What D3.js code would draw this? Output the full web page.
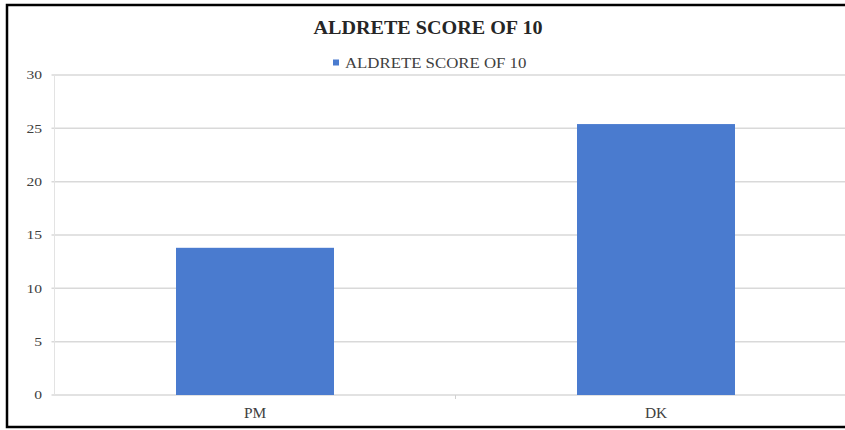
<!DOCTYPE html>
<html>
<head>
<meta charset="utf-8">
<script src="https://cdn.jsdelivr.net/npm/d3@7"></script>
<style>
  body { margin: 0; background: #fff; }
  svg { display: block; font-family: "Liberation Serif", "DejaVu Serif", serif; }
</style>
</head>
<body>
<div id="chart"></div>
<script>
// chart data
var categories = ["PM", "DK"];
var seriesName = "ALDRETE SCORE OF 10";
var values = [13.8, 25.4];
var yTicks = [0, 5, 10, 15, 20, 25, 30];

var W = 845, H = 430;

var svg = d3.select("#chart")
  .append("svg")
    .attr("width", W)
    .attr("height", H);

// outer frame (right edge is cropped in the original)
svg.append("rect")
  .attr("x", 7)
  .attr("y", 5)
  .attr("width", W + 20)
  .attr("height", 422)
  .attr("fill", "#fff")
  .attr("stroke", "#000")
  .attr("stroke-width", 2.5);

var plotLeft = 54.5, plotTop = 75, plotBottom = 395;

var y = d3.scaleLinear()
  .domain([0, 30])
  .range([plotBottom, plotTop]);

// x band extends past the right edge like the cropped source
var x = d3.scaleBand()
  .domain(categories)
  .range([plotLeft, plotLeft + 802])
  .paddingInner(0)
  .paddingOuter(0);

var barW = 158;

// text in the source is a little stretched sideways
function stretch(sel, px, py, sx) {
  sel.attr("transform", "translate(" + px + "," + py + ") scale(" + sx + ",1)");
}

// gridlines
svg.append("g")
  .selectAll("line")
  .data(yTicks)
  .enter().append("line")
    .attr("x1", plotLeft - 3)
    .attr("x2", W)
    .attr("y1", function(d) { return y(d); })
    .attr("y2", function(d) { return y(d); })
    .attr("stroke", "#d9d9d9")
    .attr("stroke-width", 1.5);

// y axis line
svg.append("line")
  .attr("x1", plotLeft)
  .attr("x2", plotLeft)
  .attr("y1", plotTop)
  .attr("y2", plotBottom)
  .attr("stroke", "#e3e3e3")
  .attr("stroke-width", 1);

// y tick labels
svg.append("g")
  .selectAll("text")
  .data(yTicks)
  .enter().append("text")
    .attr("transform", function(d) { return "translate(42," + y(d) + ") scale(1.2,1)"; })
    .attr("dy", "0.34em")
    .attr("text-anchor", "end")
    .style("font-size", "13px")
    .attr("fill", "#404040")
    .text(function(d) { return d; });

// bars
svg.append("g")
  .selectAll("rect")
  .data(values)
  .enter().append("rect")
    .attr("x", function(d, i) { return x(categories[i]) + x.bandwidth() / 2 - barW / 2; })
    .attr("y", function(d) { return y(d); })
    .attr("width", barW)
    .attr("height", function(d) { return plotBottom - y(d); })
    .attr("fill", "#4a7bcf");

// category separator tick
svg.append("line")
  .attr("x1", x("DK"))
  .attr("x2", x("DK"))
  .attr("y1", plotBottom)
  .attr("y2", plotBottom + 4)
  .attr("stroke", "#d0d0d0");

// x labels
svg.append("g")
  .selectAll("text")
  .data(categories)
  .enter().append("text")
    .attr("transform", function(d) { return "translate(" + (x(d) + x.bandwidth() / 2) + ",418) scale(1.1,1)"; })
    .attr("text-anchor", "middle")
    .style("font-size", "14px")
    .attr("fill", "#404040")
    .text(function(d) { return d; });

// title
svg.append("text")
  .call(stretch, 428, 34, 1.06)
  .attr("text-anchor", "middle")
  .style("font-size", "19px")
  .style("font-weight", "bold")
  .attr("fill", "#262626")
  .text(seriesName);

// legend
svg.append("rect")
  .attr("x", 333)
  .attr("y", 59.5)
  .attr("width", 6)
  .attr("height", 6)
  .attr("fill", "#4a7bcf");

svg.append("text")
  .call(stretch, 345, 68, 1.12)
  .style("font-size", "15px")
  .attr("fill", "#404040")
  .text(seriesName);
</script>
</body>
</html>
